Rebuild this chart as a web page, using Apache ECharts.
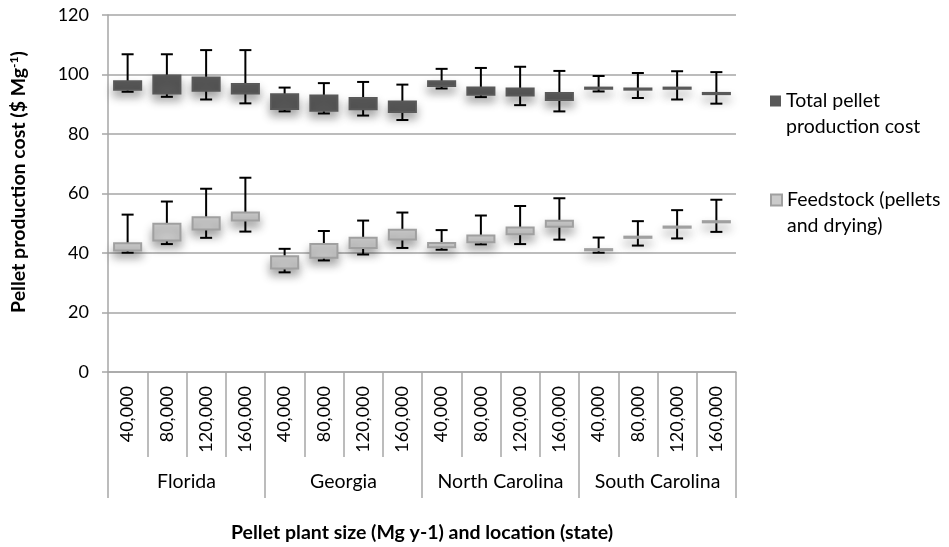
<!DOCTYPE html>
<html>
<head>
<meta charset="utf-8">
<script src="https://cdn.jsdelivr.net/npm/echarts@6/dist/echarts.min.js"></script>
<style>
  html, body { margin: 0; padding: 0; background: #fff; }
  #chart { width: 949px; height: 547px; }
</style>
</head>
<body>
<div id="chart"></div>
<script>
// Plant sizes (Mg/yr) and states on the two-level category axis
const sizes = ['40,000', '80,000', '120,000', '160,000'];
const states = ['Florida', 'Georgia', 'North Carolina', 'South Carolina'];
const yTicks = [0, 20, 40, 60, 80, 100, 120];

// Total pellet production cost ($/Mg): whisker low, box low, box high, whisker high
const totalLow  = [94.2, 92.5, 91.6, 90.3,  87.6, 86.9, 86.2, 84.7,  95.3, 92.4, 89.7, 87.6,  94.3, 92.1, 91.6, 90.2];
const totalQ1   = [94.9, 93.6, 94.5, 93.6,  88.4, 87.8, 88.3, 87.4,  96.1, 93.2, 92.9, 91.4,  95.2, 94.9, 95.2, 93.4];
const totalQ3   = [97.7, 99.7, 99.0, 96.8,  93.4, 92.9, 92.1, 90.9,  97.7, 95.6, 95.3, 93.8,  95.6, 95.3, 95.6, 93.8];
const totalHigh = [106.8, 106.8, 108.2, 108.2,  95.6, 97.1, 97.5, 96.6,  101.9, 102.2, 102.6, 101.2,  99.5, 100.5, 101.1, 100.8];

// Feedstock cost (pellets and drying), $/Mg
const feedLow  = [40.1, 43.0, 45.1, 47.2,  33.5, 37.5, 39.5, 41.7,  41.1, 42.9, 43.0, 44.5,  40.1, 42.5, 44.9, 47.1];
const feedQ1   = [40.8, 44.2, 47.9, 50.9,  34.8, 38.4, 41.7, 44.5,  41.9, 43.6, 46.3, 48.8,  40.9, 45.1, 48.5, 50.3];
const feedQ3   = [43.3, 49.8, 52.0, 53.6,  38.9, 43.0, 45.1, 47.8,  43.4, 45.9, 48.6, 50.8,  41.3, 45.5, 48.9, 50.7];
const feedHigh = [52.9, 57.3, 61.6, 65.3,  41.4, 47.4, 50.9, 53.6,  47.7, 52.6, 55.8, 58.4,  45.2, 50.7, 54.4, 57.9];

const FONT = 'Lato';
const GRID = { left: 108, right: 213, top: 15, bottom: 175 };

const categories = [];
states.forEach(() => sizes.forEach(s => categories.push(s)));

function buildData(low, q1, q3, high) {
  return low.map((v, i) => [i, v, q1[i], q3[i], high[i]]);
}

// Box = inner range, whiskers with caps = full range
function boxRenderer(fill, stroke) {
  return function (params, api) {
    const x = api.value(0);
    const pLow = api.coord([x, api.value(1)]);
    const pQ1 = api.coord([x, api.value(2)]);
    const pQ3 = api.coord([x, api.value(3)]);
    const pHigh = api.coord([x, api.value(4)]);
    const bandW = api.size([1, 0])[0];
    const boxW = bandW * 0.69;
    const capW = 12;
    const cx = pQ1[0];
    const whisk = { stroke: '#000', lineWidth: 2 };
    return {
      type: 'group',
      children: [
        { type: 'line', shape: { x1: cx, y1: pHigh[1], x2: cx, y2: pLow[1] }, style: whisk },
        { type: 'line', shape: { x1: cx - capW / 2, y1: pHigh[1], x2: cx + capW / 2, y2: pHigh[1] }, style: whisk },
        { type: 'line', shape: { x1: cx - capW / 2, y1: pLow[1], x2: cx + capW / 2, y2: pLow[1] }, style: whisk },
        {
          type: 'rect',
          shape: { x: cx - boxW / 2, y: pQ3[1], width: boxW, height: pQ1[1] - pQ3[1] },
          style: {
            fill: fill, stroke: stroke, lineWidth: 2,
            shadowBlur: 10, shadowOffsetY: 6, shadowColor: 'rgba(0,0,0,0.35)'
          }
        }
      ]
    };
  };
}

const chart = echarts.init(document.getElementById('chart'), null, { renderer: 'canvas' });

// Legend text: a leading blank line keeps the swatch level with the first line
const LEG_LH = 26;
const legendText = { fontFamily: FONT, fontSize: 19.5, color: '#000', lineHeight: LEG_LH };
function legendTop(firstLineY) { return firstLineY - 39; }

chart.setOption({
  animation: false,
  backgroundColor: '#fff',
  grid: GRID,
  legend: [
    {
      data: ['Total pellet production cost'],
      left: 770, top: legendTop(101), padding: 0,
      icon: 'rect', itemWidth: 11, itemHeight: 11, itemGap: 5,
      formatter: () => '\nTotal pellet\nproduction cost',
      textStyle: legendText,
      selectedMode: false
    },
    {
      data: ['Feedstock (pellets and drying)'],
      left: 770, top: legendTop(200), padding: 0,
      icon: 'rect', itemWidth: 11, itemHeight: 11, itemGap: 5,
      formatter: () => '\nFeedstock (pellets\nand drying)',
      textStyle: legendText,
      selectedMode: false
    }
  ],
  xAxis: [
    {
      type: 'category',
      data: categories,
      position: 'bottom',
      axisLine: { lineStyle: { color: '#a6a6a6', width: 1.5 } },
      axisTick: { show: true, length: 85, interval: 0, lineStyle: { color: '#a6a6a6', width: 1.5 } },
      axisLabel: { rotate: 90, interval: 0, margin: 14, fontFamily: FONT, fontSize: 18, color: '#000' },
      splitLine: { show: false }
    },
    {
      type: 'category',
      data: states,
      position: 'bottom',
      axisLine: { show: false },
      axisTick: { show: true, length: 126, interval: 0, lineStyle: { color: '#a6a6a6', width: 1.5 } },
      axisLabel: { interval: 0, margin: 100, fontFamily: FONT, fontSize: 19.5, color: '#000' },
      splitLine: { show: false }
    }
  ],
  yAxis: {
    type: 'value',
    min: yTicks[0], max: yTicks[yTicks.length - 1], interval: 20,
    axisLine: { show: true, lineStyle: { color: '#a6a6a6', width: 1.5 } },
    axisTick: { show: true, length: 6, lineStyle: { color: '#a6a6a6', width: 1.5 } },
    axisLabel: { margin: 19, fontFamily: FONT, fontSize: 18, color: '#000' },
    splitLine: { lineStyle: { color: '#a6a6a6', width: 1.5 } }
  },
  graphic: [
    {
      type: 'text',
      x: 19, y: 182,
      rotation: Math.PI / 2,
      style: {
        text: '{a|Pellet production cost ($ Mg}{s|-1}{a|)}',
        align: 'center', verticalAlign: 'middle',
        rich: {
          a: { fontFamily: FONT, fontSize: 19.5, fontWeight: 'bold', fill: '#000' },
          s: { fontFamily: FONT, fontSize: 12, fontWeight: 'bold', fill: '#000', verticalAlign: 'top', padding: [0, 0, 9, 0] }
        }
      }
    },
    {
      type: 'text',
      style: {
        text: 'Pellet plant size (Mg y-1) and location (state)',
        x: 422, y: 533,
        align: 'center', verticalAlign: 'middle',
        fontFamily: FONT, fontSize: 19.5, fontWeight: 'bold', fill: '#000'
      }
    }
  ],
  series: [
    {
      name: 'Total pellet production cost',
      type: 'custom',
      xAxisIndex: 0,
      itemStyle: { color: '#595959' },
      encode: { x: 0, y: [1, 2, 3, 4] },
      renderItem: boxRenderer('#595959', '#595959'),
      data: buildData(totalLow, totalQ1, totalQ3, totalHigh)
    },
    {
      name: 'Feedstock (pellets and drying)',
      type: 'custom',
      xAxisIndex: 0,
      itemStyle: { color: '#cbcbcb', borderColor: '#a0a0a0', borderWidth: 1.5 },
      encode: { x: 0, y: [1, 2, 3, 4] },
      renderItem: boxRenderer('#cbcbcb', '#a0a0a0'),
      data: buildData(feedLow, feedQ1, feedQ3, feedHigh)
    }
  ]
});
</script>
</body>
</html>
